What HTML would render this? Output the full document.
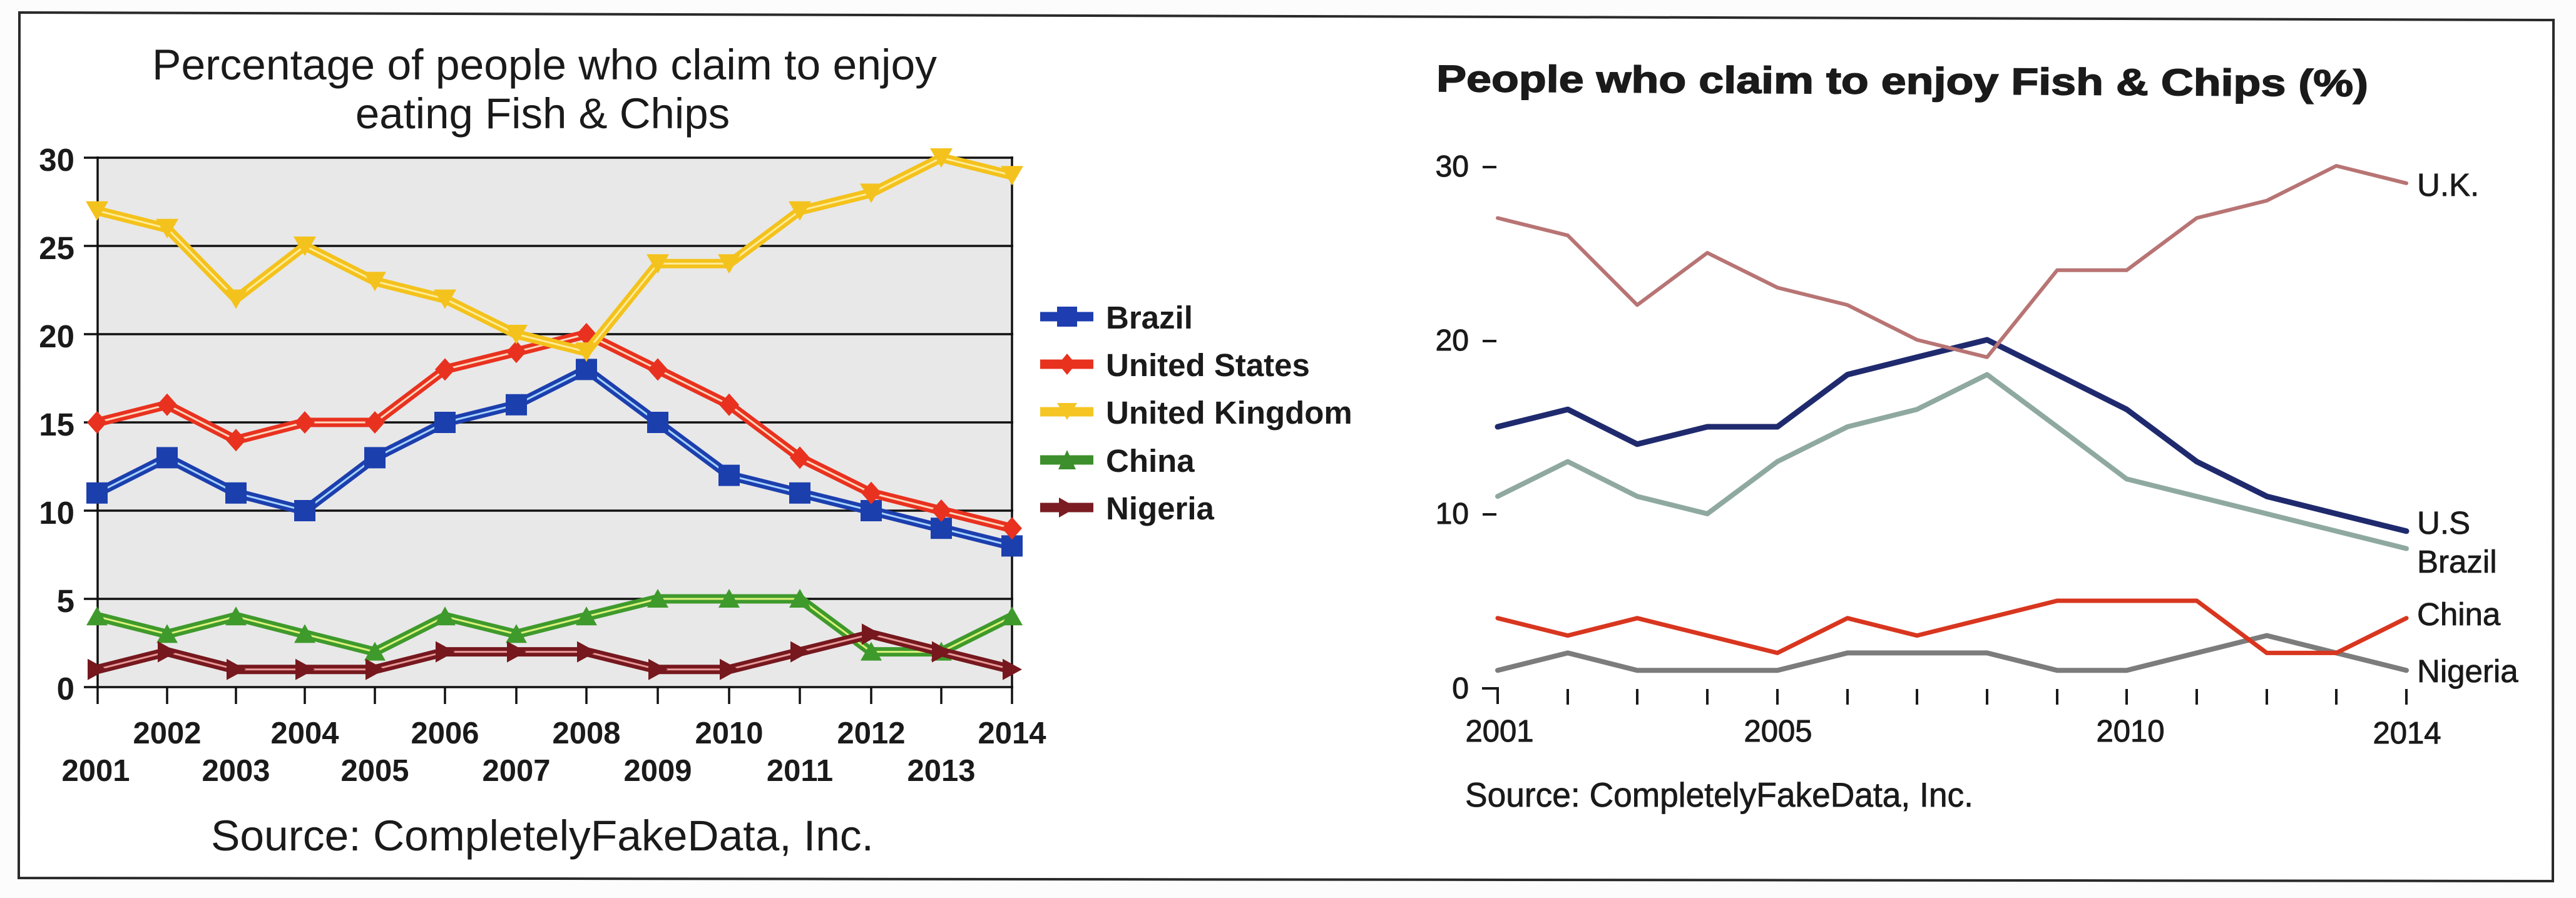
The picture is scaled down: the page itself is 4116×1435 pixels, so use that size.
<!DOCTYPE html>
<html>
<head>
<meta charset="utf-8">
<style>
html,body{margin:0;padding:0;background:#fcfcfc;}
svg{display:block;}
text{font-family:"Liberation Sans",Arial,sans-serif;fill:#1a1a1a;}
</style>
</head>
<body>
<svg width="4116" height="1435" viewBox="0 0 4116 1435" xmlns="http://www.w3.org/2000/svg">
<defs>
  <marker id="mBr" markerUnits="userSpaceOnUse" markerWidth="40" markerHeight="40" refX="20" refY="20" overflow="visible">
    <rect x="3" y="3" width="34" height="34" fill="#1c3fae"/>
  </marker>
  <marker id="mUS" markerUnits="userSpaceOnUse" markerWidth="40" markerHeight="40" refX="20" refY="20" overflow="visible">
    <polygon points="20,2 36,20 20,38 4,20" fill="#e8321f"/>
  </marker>
  <marker id="mUK" markerUnits="userSpaceOnUse" markerWidth="40" markerHeight="40" refX="20" refY="20" overflow="visible">
    <polygon points="2,5 38,5 20,36" fill="#f4c21c"/>
  </marker>
  <marker id="mCN" markerUnits="userSpaceOnUse" markerWidth="40" markerHeight="40" refX="20" refY="20" overflow="visible">
    <polygon points="20,4 37,34 3,34" fill="#3f9a2c"/>
  </marker>
  <marker id="mNG" markerUnits="userSpaceOnUse" markerWidth="40" markerHeight="40" refX="20" refY="20" overflow="visible">
    <polygon points="5,3 36,20 5,37" fill="#76181e"/>
  </marker>
</defs>

<rect x="0" y="0" width="4116" height="1435" fill="#fcfcfc"/>
<polygon points="31,20 4080,32 4079,1408 30,1403" fill="#ffffff" stroke="#2a2a2a" stroke-width="4"/>

<!-- ================= LEFT CHART ================= -->
<text x="870" y="127" font-size="69" text-anchor="middle" textLength="1254" lengthAdjust="spacingAndGlyphs">Percentage of people who claim to enjoy</text>
<text x="867" y="205" font-size="69" text-anchor="middle">eating Fish &amp; Chips</text>

<rect x="156" y="252" width="1461" height="846" fill="#e8e8e8"/>

<g stroke="#111" stroke-width="3.5">
  <line x1="134" y1="252" x2="1619" y2="252"/>
  <line x1="134" y1="393" x2="1619" y2="393"/>
  <line x1="134" y1="534" x2="1619" y2="534"/>
  <line x1="134" y1="675" x2="1619" y2="675"/>
  <line x1="134" y1="816" x2="1619" y2="816"/>
  <line x1="134" y1="957" x2="1619" y2="957"/>
  <line x1="134" y1="1098" x2="1619" y2="1098"/>
  <line x1="156" y1="250" x2="156" y2="1125"/>
  <line x1="1617" y1="250" x2="1617" y2="1125"/>
</g>
<g stroke="#111" stroke-width="3.5">
  <line x1="267" y1="1098" x2="267" y2="1125"/>
  <line x1="377" y1="1098" x2="377" y2="1125"/>
  <line x1="487" y1="1098" x2="487" y2="1125"/>
  <line x1="599" y1="1098" x2="599" y2="1125"/>
  <line x1="711" y1="1098" x2="711" y2="1125"/>
  <line x1="825" y1="1098" x2="825" y2="1125"/>
  <line x1="937" y1="1098" x2="937" y2="1125"/>
  <line x1="1051" y1="1098" x2="1051" y2="1125"/>
  <line x1="1165" y1="1098" x2="1165" y2="1125"/>
  <line x1="1278" y1="1098" x2="1278" y2="1125"/>
  <line x1="1392" y1="1098" x2="1392" y2="1125"/>
  <line x1="1504" y1="1098" x2="1504" y2="1125"/>
</g>

<g font-size="51" font-weight="bold" text-anchor="end">
  <text x="119" y="273">30</text>
  <text x="119" y="414">25</text>
  <text x="119" y="555">20</text>
  <text x="119" y="696">15</text>
  <text x="119" y="837">10</text>
  <text x="119" y="978">5</text>
  <text x="119" y="1118">0</text>
</g>

<g font-size="49" font-weight="bold" text-anchor="middle">
  <text x="267" y="1188">2002</text>
  <text x="487" y="1188">2004</text>
  <text x="711" y="1188">2006</text>
  <text x="937" y="1188">2008</text>
  <text x="1165" y="1188">2010</text>
  <text x="1392" y="1188">2012</text>
  <text x="1617" y="1188">2014</text>
  <text x="153" y="1248">2001</text>
  <text x="377" y="1248">2003</text>
  <text x="599" y="1248">2005</text>
  <text x="825" y="1248">2007</text>
  <text x="1051" y="1248">2009</text>
  <text x="1278" y="1248">2011</text>
  <text x="1504" y="1248">2013</text>
</g>

<g fill="none" stroke-linejoin="miter" stroke-linecap="butt">
  <polyline stroke="#1c3fae" stroke-width="15" points="155,787.8 267,731.4 377,787.8 487,816 599,731.4 711,675 825,646.8 937,590.4 1051,675 1165,759.6 1278,787.8 1392,816 1504,844.2 1617,872.4"/>
  <polyline stroke="#a8d4ff" stroke-width="3" points="155,787.8 267,731.4 377,787.8 487,816 599,731.4 711,675 825,646.8 937,590.4 1051,675 1165,759.6 1278,787.8 1392,816 1504,844.2 1617,872.4"/>
  <polyline stroke="none" marker-start="url(#mBr)" marker-mid="url(#mBr)" marker-end="url(#mBr)" points="155,787.8 267,731.4 377,787.8 487,816 599,731.4 711,675 825,646.8 937,590.4 1051,675 1165,759.6 1278,787.8 1392,816 1504,844.2 1617,872.4"/>

  <polyline stroke="#e8321f" stroke-width="15" points="155,675 267,646.8 377,703.2 487,675 599,675 711,590.4 825,562.2 937,534 1051,590.4 1165,646.8 1278,731.4 1392,787.8 1504,816 1617,844.2"/>
  <polyline stroke="#ffd6bd" stroke-width="3" points="155,675 267,646.8 377,703.2 487,675 599,675 711,590.4 825,562.2 937,534 1051,590.4 1165,646.8 1278,731.4 1392,787.8 1504,816 1617,844.2"/>
  <polyline stroke="none" marker-start="url(#mUS)" marker-mid="url(#mUS)" marker-end="url(#mUS)" points="155,675 267,646.8 377,703.2 487,675 599,675 711,590.4 825,562.2 937,534 1051,590.4 1165,646.8 1278,731.4 1392,787.8 1504,816 1617,844.2"/>

  <polyline stroke="#f4c21c" stroke-width="15" points="155,336.6 267,364.8 377,477.6 487,393 599,449.4 711,477.6 825,534 937,562.2 1051,421.2 1165,421.2 1278,336.6 1392,308.4 1504,252 1617,280.2"/>
  <polyline stroke="#ffec9a" stroke-width="3" points="155,336.6 267,364.8 377,477.6 487,393 599,449.4 711,477.6 825,534 937,562.2 1051,421.2 1165,421.2 1278,336.6 1392,308.4 1504,252 1617,280.2"/>
  <polyline stroke="none" marker-start="url(#mUK)" marker-mid="url(#mUK)" marker-end="url(#mUK)" points="155,336.6 267,364.8 377,477.6 487,393 599,449.4 711,477.6 825,534 937,562.2 1051,421.2 1165,421.2 1278,336.6 1392,308.4 1504,252 1617,280.2"/>

  <polyline stroke="#3f9a2c" stroke-width="15" points="155,985.2 267,1013.4 377,985.2 487,1013.4 599,1041.6 711,985.2 825,1013.4 937,985.2 1051,957 1165,957 1278,957 1392,1041.6 1504,1041.6 1617,985.2"/>
  <polyline stroke="#dcf27a" stroke-width="3" points="155,985.2 267,1013.4 377,985.2 487,1013.4 599,1041.6 711,985.2 825,1013.4 937,985.2 1051,957 1165,957 1278,957 1392,1041.6 1504,1041.6 1617,985.2"/>
  <polyline stroke="none" marker-start="url(#mCN)" marker-mid="url(#mCN)" marker-end="url(#mCN)" points="155,985.2 267,1013.4 377,985.2 487,1013.4 599,1041.6 711,985.2 825,1013.4 937,985.2 1051,957 1165,957 1278,957 1392,1041.6 1504,1041.6 1617,985.2"/>

  <polyline stroke="#76181e" stroke-width="15" points="155,1069.8 267,1041.6 377,1069.8 487,1069.8 599,1069.8 711,1041.6 825,1041.6 937,1041.6 1051,1069.8 1165,1069.8 1278,1041.6 1392,1013.4 1504,1041.6 1617,1069.8"/>
  <polyline stroke="#e89a9a" stroke-width="3" points="155,1069.8 267,1041.6 377,1069.8 487,1069.8 599,1069.8 711,1041.6 825,1041.6 937,1041.6 1051,1069.8 1165,1069.8 1278,1041.6 1392,1013.4 1504,1041.6 1617,1069.8"/>
  <polyline stroke="none" marker-start="url(#mNG)" marker-mid="url(#mNG)" marker-end="url(#mNG)" points="155,1069.8 267,1041.6 377,1069.8 487,1069.8 599,1069.8 711,1041.6 825,1041.6 937,1041.6 1051,1069.8 1165,1069.8 1278,1041.6 1392,1013.4 1504,1041.6 1617,1069.8"/>
</g>

<g>
  <line x1="1662" y1="506" x2="1747" y2="506" stroke="#1d3db0" stroke-width="15"/>
  <rect x="1689" y="490" width="32" height="32" fill="#1d3db0"/>
  <line x1="1662" y1="582" x2="1747" y2="582" stroke="#e8321e" stroke-width="15"/>
  <polygon points="1705,565 1719,582 1705,599 1691,582" fill="#e8321e"/>
  <line x1="1662" y1="658" x2="1747" y2="658" stroke="#f5c524" stroke-width="15"/>
  <polygon points="1689,644 1721,644 1705,671" fill="#f5c524"/>
  <line x1="1662" y1="735" x2="1747" y2="735" stroke="#3c8f2c" stroke-width="15"/>
  <polygon points="1705,719 1719,750 1691,750" fill="#3c8f2c"/>
  <line x1="1662" y1="811" x2="1747" y2="811" stroke="#7a1c22" stroke-width="15"/>
  <polygon points="1692,795 1720,811 1692,827" fill="#7a1c22"/>
</g>
<g font-size="51" font-weight="bold">
  <text x="1767" y="525">Brazil</text>
  <text x="1767" y="601">United States</text>
  <text x="1767" y="677">United Kingdom</text>
  <text x="1767" y="754">China</text>
  <text x="1767" y="830">Nigeria</text>
</g>

<text x="337" y="1359" font-size="69" textLength="1059" lengthAdjust="spacingAndGlyphs">Source: CompletelyFakeData, Inc.</text>

<!-- ================= RIGHT CHART ================= -->
<text x="2295" y="146" font-size="60" font-weight="bold" stroke="#1a1a1a" stroke-width="1.5" textLength="1489" lengthAdjust="spacingAndGlyphs" transform="rotate(0.3 2295 146)">People who claim to enjoy Fish &amp; Chips (%)</text>

<g font-size="48" text-anchor="end" stroke="#1a1a1a" stroke-width="1">
  <text x="2347" y="282">30</text>
  <text x="2347" y="560">20</text>
  <text x="2347" y="837">10</text>
  <text x="2347" y="1116">0</text>
</g>
<g stroke="#1a1a1a" stroke-width="4">
  <line x1="2369" y1="267" x2="2391" y2="267"/>
  <line x1="2369" y1="545" x2="2391" y2="545"/>
  <line x1="2369" y1="822" x2="2391" y2="822"/>
  <polyline fill="none" points="2368,1100 2393,1100 2393,1125"/>
  <line x1="2505" y1="1101" x2="2505" y2="1126"/>
  <line x1="2616" y1="1101" x2="2616" y2="1126"/>
  <line x1="2728" y1="1101" x2="2728" y2="1126"/>
  <line x1="2840" y1="1101" x2="2840" y2="1126"/>
  <line x1="2952" y1="1101" x2="2952" y2="1126"/>
  <line x1="3063" y1="1101" x2="3063" y2="1126"/>
  <line x1="3175" y1="1101" x2="3175" y2="1126"/>
  <line x1="3287" y1="1101" x2="3287" y2="1126"/>
  <line x1="3398" y1="1101" x2="3398" y2="1126"/>
  <line x1="3510" y1="1101" x2="3510" y2="1126"/>
  <line x1="3622" y1="1101" x2="3622" y2="1126"/>
  <line x1="3733" y1="1101" x2="3733" y2="1126"/>
  <line x1="3845" y1="1101" x2="3845" y2="1126"/>
</g>
<g font-size="49" text-anchor="middle" stroke="#1a1a1a" stroke-width="1">
  <text x="2396" y="1185">2001</text>
  <text x="2841" y="1185">2005</text>
  <text x="3404" y="1185">2010</text>
  <text x="3846" y="1188">2014</text>
</g>

<g fill="none" stroke-linejoin="round" stroke-linecap="round">
  <polyline stroke="#7c7c7c" stroke-width="8" points="2393,1071.2 2505,1043.4 2616,1071.2 2728,1071.2 2840,1071.2 2952,1043.4 3063,1043.4 3175,1043.4 3287,1071.2 3398,1071.2 3510,1043.4 3622,1015.6 3733,1043.4 3845,1071.2"/>
  <polyline stroke="#d8361f" stroke-width="7" points="2393,987.8 2505,1015.6 2616,987.8 2728,1015.6 2840,1043.4 2952,987.8 3063,1015.6 3175,987.8 3287,960 3398,960 3510,960 3622,1043.4 3733,1043.4 3845,987.8"/>
  <polyline stroke="#8fa9a0" stroke-width="8" points="2393,793.2 2505,737.6 2616,793.2 2728,821 2840,737.6 2952,682 3063,654.2 3175,598.6 3287,682 3398,765.4 3510,793.2 3622,821 3733,848.8 3845,876.6"/>
  <polyline stroke="#1f2a6e" stroke-width="9" points="2393,682 2505,654.2 2616,709.8 2728,682 2840,682 2952,598.6 3063,570.8 3175,543 3287,598.6 3398,654.2 3510,737.6 3622,793.2 3733,821 3845,848.8"/>
  <polyline stroke="#b87474" stroke-width="6" points="2393,348.4 2505,376.2 2616,487.4 2728,404 2840,459.6 2952,487.4 3063,543 3175,570.8 3287,431.8 3398,431.8 3510,348.4 3622,320.6 3733,265 3845,292.8"/>
</g>

<g font-size="51" stroke="#1a1a1a" stroke-width="0.8">
  <text x="3862" y="313">U.K.</text>
  <text x="3862" y="853">U.S</text>
  <text x="3862" y="915">Brazil</text>
  <text x="3862" y="999">China</text>
  <text x="3862" y="1090">Nigeria</text>
</g>

<text x="2341" y="1289" font-size="55" stroke="#1a1a1a" stroke-width="0.8" textLength="812" lengthAdjust="spacingAndGlyphs">Source: CompletelyFakeData, Inc.</text>
</svg>
</body>
</html>
